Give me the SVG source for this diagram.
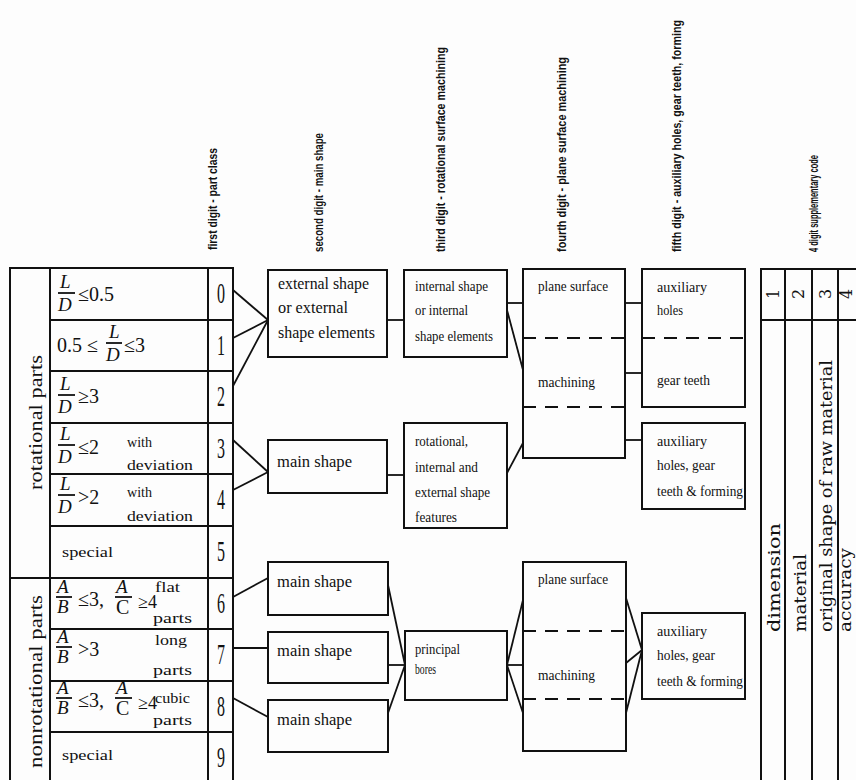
<svg xmlns="http://www.w3.org/2000/svg" width="856" height="780" viewBox="0 0 856 780">
<style>
.b{fill:none;stroke:#111;stroke-width:2}
.l{stroke:#111;stroke-width:1.8;fill:none}
.d{stroke:#111;stroke-width:2;stroke-dasharray:13 9}
.h{font-family:"Liberation Sans",Arial,sans-serif;font-weight:bold;font-size:13px;fill:#111}
.n{font-family:"Liberation Serif","Times New Roman",serif;font-size:16px;fill:#111}
.s{font-family:"Liberation Serif","Times New Roman",serif;font-size:14px;fill:#111}
.m{font-family:"Liberation Serif","Times New Roman",serif;font-size:20px;fill:#111}
.i{font-family:"Liberation Serif","Times New Roman",serif;font-size:19px;font-style:italic;fill:#111}
.g{font-family:"Liberation Serif","Times New Roman",serif;font-size:30px;fill:#111}
.c{font-family:"DejaVu Serif",serif;font-size:16px;fill:#111}
</style>
<rect width="856" height="780" fill="#fdfdfd"/>

<g id="headers">
<text class="h" transform="translate(217,250) rotate(-90)" textLength="102" lengthAdjust="spacingAndGlyphs">first digit - part class</text>
<text class="h" transform="translate(323,252) rotate(-90)" textLength="119" lengthAdjust="spacingAndGlyphs">second digit - main shape</text>
<text class="h" transform="translate(445,252) rotate(-90)" textLength="205" lengthAdjust="spacingAndGlyphs">third digit - rotational surface machining</text>
<text class="h" transform="translate(566,252) rotate(-90)" textLength="195" lengthAdjust="spacingAndGlyphs">fourth digit - plane surface machining</text>
<text class="h" transform="translate(681,252) rotate(-90)" textLength="232" lengthAdjust="spacingAndGlyphs">fifth digit - auxiliary holes, gear teeth, forming</text>
<text class="h" transform="translate(818,252) rotate(-90)" textLength="97" lengthAdjust="spacingAndGlyphs">4 digit supplementary code</text>
</g>

<g id="part-class-table">
<rect class="b" x="10" y="268" width="40" height="530"/>
<line class="b" x1="10" y1="578" x2="50" y2="578"/>
<rect class="b" x="50" y="268" width="158" height="530"/>
<rect class="b" x="208" y="268" width="25" height="530"/>
<g class="b">
<line x1="50" y1="320" x2="233" y2="320"/>
<line x1="50" y1="371" x2="233" y2="371"/>
<line x1="50" y1="423" x2="233" y2="423"/>
<line x1="50" y1="474" x2="233" y2="474"/>
<line x1="50" y1="526" x2="233" y2="526"/>
<line x1="50" y1="578" x2="233" y2="578"/>
<line x1="50" y1="629" x2="233" y2="629"/>
<line x1="50" y1="681" x2="233" y2="681"/>
<line x1="50" y1="732" x2="233" y2="732"/>
</g>
<text class="n" transform="translate(42,490) rotate(-90)" textLength="135" lengthAdjust="spacingAndGlyphs" style="font-size:18px">rotational parts</text>
<text class="n" transform="translate(42,768) rotate(-90)" textLength="173" lengthAdjust="spacingAndGlyphs" style="font-size:18px">nonrotational parts</text>

<!-- row 0 -->
<text class="i" x="60" y="288">L</text>
<line class="l" x1="58" y1="293" x2="75" y2="293"/>
<text class="i" x="58" y="311">D</text>
<text class="m" x="78" y="301">≤0.5</text>
<!-- row 1 -->
<text class="m" x="57" y="352">0.5 ≤</text>
<text class="i" x="109" y="338">L</text>
<line class="l" x1="106" y1="343" x2="122" y2="343"/>
<text class="i" x="106" y="361">D</text>
<text class="m" x="124" y="352">≤3</text>
<!-- row 2 -->
<text class="i" x="60" y="390">L</text>
<line class="l" x1="58" y1="395" x2="75" y2="395"/>
<text class="i" x="58" y="413">D</text>
<text class="m" x="78" y="403">≥3</text>
<!-- row 3 -->
<text class="i" x="60" y="440">L</text>
<line class="l" x1="58" y1="445" x2="75" y2="445"/>
<text class="i" x="58" y="463">D</text>
<text class="m" x="78" y="454">≤2</text>
<text class="s" x="127" y="447" textLength="25" lengthAdjust="spacingAndGlyphs">with</text>
<text class="s" x="127" y="470" textLength="66" lengthAdjust="spacingAndGlyphs">deviation</text>
<!-- row 4 -->
<text class="i" x="60" y="490">L</text>
<line class="l" x1="58" y1="495" x2="75" y2="495"/>
<text class="i" x="58" y="513">D</text>
<text class="m" x="78" y="504">&gt;2</text>
<text class="s" x="127" y="497" textLength="25" lengthAdjust="spacingAndGlyphs">with</text>
<text class="s" x="127" y="521" textLength="66" lengthAdjust="spacingAndGlyphs">deviation</text>
<!-- row 5 -->
<text class="s" x="62" y="557" textLength="51" lengthAdjust="spacingAndGlyphs">special</text>
<!-- row 6 -->
<text class="i" x="57" y="593">A</text>
<line class="l" x1="56" y1="597" x2="72" y2="597"/>
<text class="i" x="57" y="613">B</text>
<text class="m" x="78" y="606">≤3,</text>
<text class="i" x="116" y="593">A</text>
<line class="l" x1="115" y1="597" x2="132" y2="597"/>
<text class="m" x="116" y="614">C</text>
<text class="m" x="138" y="608" style="font-size:18px">≥4</text>
<text class="s" x="155" y="592" textLength="25" lengthAdjust="spacingAndGlyphs">flat</text>
<text class="s" x="153" y="623" textLength="39" lengthAdjust="spacingAndGlyphs">parts</text>
<!-- row 7 -->
<text class="i" x="57" y="643">A</text>
<line class="l" x1="56" y1="647" x2="72" y2="647"/>
<text class="i" x="57" y="663">B</text>
<text class="m" x="78" y="656">&gt;3</text>
<text class="s" x="155" y="645" textLength="32" lengthAdjust="spacingAndGlyphs">long</text>
<text class="s" x="153" y="675" textLength="39" lengthAdjust="spacingAndGlyphs">parts</text>
<!-- row 8 -->
<text class="i" x="57" y="694">A</text>
<line class="l" x1="56" y1="698" x2="72" y2="698"/>
<text class="i" x="57" y="714">B</text>
<text class="m" x="78" y="707">≤3,</text>
<text class="i" x="116" y="694">A</text>
<line class="l" x1="115" y1="698" x2="132" y2="698"/>
<text class="m" x="116" y="715">C</text>
<text class="m" x="138" y="709" style="font-size:18px">≥4</text>
<text class="s" x="155" y="703" textLength="35" lengthAdjust="spacingAndGlyphs">cubic</text>
<text class="s" x="153" y="725" textLength="39" lengthAdjust="spacingAndGlyphs">parts</text>
<!-- row 9 -->
<text class="s" x="62" y="760" textLength="51" lengthAdjust="spacingAndGlyphs">special</text>

<!-- digits -->
<g class="g" text-anchor="middle">
<text x="221" y="303" textLength="8" lengthAdjust="spacingAndGlyphs">0</text>
<text x="221" y="355" textLength="8" lengthAdjust="spacingAndGlyphs">1</text>
<text x="221" y="406" textLength="8" lengthAdjust="spacingAndGlyphs">2</text>
<text x="221" y="458" textLength="8" lengthAdjust="spacingAndGlyphs">3</text>
<text x="221" y="509" textLength="8" lengthAdjust="spacingAndGlyphs">4</text>
<text x="221" y="561" textLength="8" lengthAdjust="spacingAndGlyphs">5</text>
<text x="221" y="613" textLength="8" lengthAdjust="spacingAndGlyphs">6</text>
<text x="221" y="664" textLength="8" lengthAdjust="spacingAndGlyphs">7</text>
<text x="221" y="716" textLength="8" lengthAdjust="spacingAndGlyphs">8</text>
<text x="221" y="767" textLength="8" lengthAdjust="spacingAndGlyphs">9</text>
</g>
</g>

<g id="ms-external">
<rect class="b" x="268" y="270" width="119" height="87"/>
<text class="n" x="278" y="289" textLength="91" lengthAdjust="spacingAndGlyphs">external shape</text>
<text class="n" x="278" y="313" textLength="70" lengthAdjust="spacingAndGlyphs">or external</text>
<text class="n" x="278" y="338" textLength="97" lengthAdjust="spacingAndGlyphs">shape elements</text>
</g>
<g id="ms-rot-main">
<rect class="b" x="268" y="440" width="119" height="53"/>
<text class="n" x="277" y="467" textLength="75" lengthAdjust="spacingAndGlyphs">main shape</text>
</g>
<g id="ms-flat">
<rect class="b" x="268" y="562" width="120" height="53"/>
<text class="n" x="277" y="587" textLength="75" lengthAdjust="spacingAndGlyphs">main shape</text>
</g>
<g id="ms-long">
<rect class="b" x="268" y="632" width="120" height="51"/>
<text class="n" x="277" y="656" textLength="75" lengthAdjust="spacingAndGlyphs">main shape</text>
</g>
<g id="ms-cubic">
<rect class="b" x="268" y="700" width="120" height="52"/>
<text class="n" x="277" y="725" textLength="75" lengthAdjust="spacingAndGlyphs">main shape</text>
</g>

<g id="td-internal">
<rect class="b" x="404" y="270" width="103" height="87"/>
<text class="s" x="415" y="291" textLength="73" lengthAdjust="spacingAndGlyphs">internal shape</text>
<text class="s" x="415" y="315" textLength="53" lengthAdjust="spacingAndGlyphs">or internal</text>
<text class="s" x="415" y="341" textLength="78" lengthAdjust="spacingAndGlyphs">shape elements</text>
</g>
<g id="td-rotational">
<rect class="b" x="404" y="423" width="103" height="105"/>
<text class="s" x="415" y="446" textLength="53" lengthAdjust="spacingAndGlyphs">rotational,</text>
<text class="s" x="415" y="472" textLength="63" lengthAdjust="spacingAndGlyphs">internal and</text>
<text class="s" x="415" y="497" textLength="75" lengthAdjust="spacingAndGlyphs">external shape</text>
<text class="s" x="415" y="522" textLength="42" lengthAdjust="spacingAndGlyphs">features</text>
</g>
<g id="td-bores">
<rect class="b" x="405" y="631" width="102" height="69"/>
<text class="s" x="415" y="654" textLength="45" lengthAdjust="spacingAndGlyphs">principal</text>
<text class="s" x="415" y="674" textLength="21" lengthAdjust="spacingAndGlyphs">bores</text>
</g>

<g id="fd-top">
<rect class="b" x="523" y="269" width="102" height="189"/>
<line class="d" x1="523" y1="338" x2="625" y2="338"/>
<line class="d" x1="523" y1="407" x2="625" y2="407"/>
<text class="s" x="538" y="291" textLength="70" lengthAdjust="spacingAndGlyphs">plane surface</text>
<text class="s" x="538" y="387" textLength="57" lengthAdjust="spacingAndGlyphs">machining</text>
</g>
<g id="fd-bottom">
<rect class="b" x="523" y="562" width="103" height="189"/>
<line class="d" x1="523" y1="631" x2="626" y2="631"/>
<line class="d" x1="523" y1="699" x2="626" y2="699"/>
<text class="s" x="538" y="584" textLength="70" lengthAdjust="spacingAndGlyphs">plane surface</text>
<text class="s" x="538" y="680" textLength="57" lengthAdjust="spacingAndGlyphs">machining</text>
</g>

<g id="fi-holes-teeth">
<rect class="b" x="642" y="269" width="103" height="138"/>
<line class="d" x1="642" y1="338" x2="745" y2="338"/>
<text class="s" x="657" y="292" textLength="50" lengthAdjust="spacingAndGlyphs">auxiliary</text>
<text class="s" x="657" y="315" textLength="26" lengthAdjust="spacingAndGlyphs">holes</text>
<text class="s" x="657" y="385" textLength="53" lengthAdjust="spacingAndGlyphs">gear teeth</text>
</g>
<g id="fi-forming-top">
<rect class="b" x="642" y="423" width="103" height="86"/>
<text class="s" x="657" y="446" textLength="50" lengthAdjust="spacingAndGlyphs">auxiliary</text>
<text class="s" x="657" y="470" textLength="58" lengthAdjust="spacingAndGlyphs">holes, gear</text>
<text class="s" x="657" y="496" textLength="86" lengthAdjust="spacingAndGlyphs">teeth &amp; forming</text>
</g>
<g id="fi-forming-bottom">
<rect class="b" x="642" y="613" width="103" height="86"/>
<text class="s" x="657" y="636" textLength="50" lengthAdjust="spacingAndGlyphs">auxiliary</text>
<text class="s" x="657" y="660" textLength="58" lengthAdjust="spacingAndGlyphs">holes, gear</text>
<text class="s" x="657" y="686" textLength="86" lengthAdjust="spacingAndGlyphs">teeth &amp; forming</text>
</g>

<g id="supplementary">
<rect class="b" x="761" y="269" width="110" height="530"/>
<line class="b" x1="785" y1="269" x2="785" y2="800"/>
<line class="b" x1="812" y1="269" x2="812" y2="800"/>
<line class="b" x1="838" y1="269" x2="838" y2="800"/>
<line class="b" x1="761" y1="320" x2="871" y2="320"/>
<g class="c" text-anchor="middle">
<text transform="translate(779,294) rotate(-90)">1</text>
<text transform="translate(804,294) rotate(-90)">2</text>
<text transform="translate(831,294) rotate(-90)">3</text>
<text transform="translate(852,294) rotate(-90)">4</text>
</g>
<text class="c" transform="translate(780,632) rotate(-90)" textLength="109" lengthAdjust="spacingAndGlyphs">dimension</text>
<text class="c" transform="translate(806,632) rotate(-90)" textLength="78" lengthAdjust="spacingAndGlyphs">material</text>
<text class="c" transform="translate(832,632) rotate(-90)" textLength="272" lengthAdjust="spacingAndGlyphs">original shape of raw material</text>
<text class="c" transform="translate(851,632) rotate(-90)" textLength="84" lengthAdjust="spacingAndGlyphs">accuracy</text>
</g>

<g id="connectors" class="l">
<line x1="233" y1="290" x2="268" y2="320"/>
<line x1="233" y1="338" x2="268" y2="320"/>
<line x1="233" y1="386" x2="268" y2="320"/>
<line x1="233" y1="440" x2="268" y2="472"/>
<line x1="233" y1="490" x2="268" y2="472"/>
<line x1="233" y1="597" x2="268" y2="578"/>
<line x1="233" y1="648" x2="268" y2="648"/>
<line x1="233" y1="698" x2="268" y2="717"/>
<line x1="387" y1="320" x2="404" y2="320"/>
<line x1="387" y1="475" x2="404" y2="475"/>
<line x1="388" y1="585" x2="405" y2="665"/>
<line x1="388" y1="665" x2="405" y2="665"/>
<line x1="388" y1="713" x2="405" y2="665"/>
<line x1="507" y1="303" x2="523" y2="303"/>
<line x1="507" y1="310" x2="523" y2="370"/>
<line x1="507" y1="473" x2="523" y2="443"/>
<line x1="625" y1="303" x2="642" y2="303"/>
<line x1="625" y1="373" x2="642" y2="373"/>
<line x1="625" y1="440" x2="642" y2="440"/>
<line x1="507" y1="665" x2="523" y2="600"/>
<line x1="507" y1="665" x2="523" y2="665"/>
<line x1="507" y1="665" x2="523" y2="713"/>
<line x1="626" y1="598" x2="642" y2="650"/>
<line x1="626" y1="663" x2="642" y2="650"/>
<line x1="626" y1="713" x2="642" y2="650"/>
</g>
</svg>
